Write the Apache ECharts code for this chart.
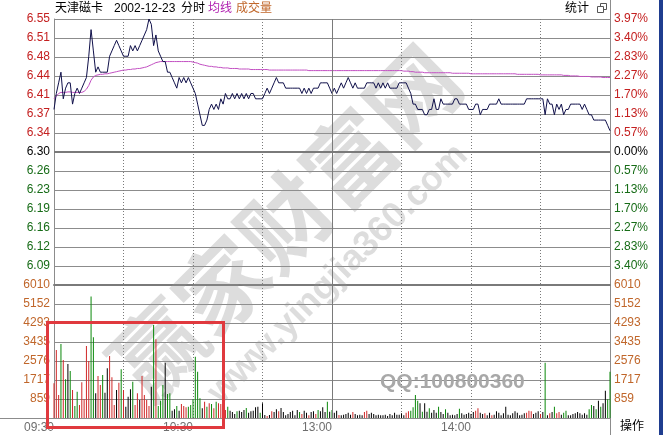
<!DOCTYPE html>
<html><head><meta charset="utf-8">
<script src="https://cdn.jsdelivr.net/npm/echarts@6/dist/echarts.min.js"></script>
<style>html,body{margin:0;padding:0;background:#fff;}#c{width:663px;height:435px;}</style>
</head><body><div id="c"></div>
<script>
const stockName = '天津磁卡';
const tradeDate = '2002-12-23';
const prevClose = 6.30;
const priceMax = 6.55;
const priceMin = 6.05;
const volMax = 6010;

const leftPriceLabels = ['6.55','6.51','6.48','6.44','6.41','6.37','6.34','6.30','6.26','6.23','6.19','6.16','6.12','6.09',''];
const rightPriceLabels = ['3.97%','3.40%','2.83%','2.27%','1.70%','1.13%','0.57%','0.00%','0.57%','1.13%','1.70%','2.27%','2.83%','3.40%',''];
const volLabels = ['6010','5152','4293','3435','2576','1717','859',''];
const timeTickLabels = ['09:30','10:30','13:00','14:00'];

const prices = [
 6.38,6.41,6.43,6.45,6.40,6.42,6.43,6.43,6.39,6.41,
 6.42,6.41,6.42,6.43,6.44,6.48,6.53,6.49,6.45,6.46,
 6.45,6.45,6.45,6.45,6.48,6.49,6.50,6.51,6.50,6.49,
 6.48,6.48,6.48,6.50,6.49,6.50,6.49,6.50,6.51,6.52,
 6.53,6.55,6.54,6.50,6.52,6.49,6.48,6.47,6.47,6.45,
 6.45,6.44,6.43,6.42,6.44,6.43,6.44,6.43,6.44,6.43,
 6.42,6.41,6.39,6.37,6.35,6.35,6.36,6.38,6.39,6.38,
 6.39,6.38,6.40,6.39,6.41,6.40,6.40,6.41,6.40,6.41,
 6.40,6.41,6.40,6.41,6.40,6.41,6.41,6.40,6.40,6.40,
 6.40,6.41,6.42,6.41,6.42,6.43,6.44,6.43,6.43,6.43,
 6.42,6.42,6.42,6.42,6.42,6.42,6.42,6.41,6.42,6.41,
 6.42,6.41,6.42,6.42,6.42,6.43,6.43,6.43,6.43,6.42,
 6.41,6.42,6.41,6.42,6.43,6.42,6.43,6.44,6.43,6.42,
 6.43,6.42,6.42,6.42,6.42,6.43,6.43,6.43,6.43,6.42,
 6.43,6.42,6.43,6.42,6.43,6.42,6.42,6.42,6.42,6.43,
 6.43,6.43,6.43,6.42,6.41,6.39,6.39,6.38,6.38,6.38,
 6.37,6.37,6.38,6.38,6.40,6.38,6.38,6.40,6.39,6.39,
 6.39,6.39,6.39,6.40,6.40,6.39,6.39,6.39,6.39,6.38,
 6.38,6.38,6.39,6.39,6.37,6.38,6.38,6.38,6.39,6.39,
 6.39,6.39,6.40,6.39,6.39,6.39,6.39,6.39,6.39,6.39,
 6.39,6.39,6.39,6.39,6.40,6.40,6.40,6.40,6.40,6.40,
 6.40,6.40,6.37,6.40,6.39,6.39,6.37,6.39,6.38,6.39,
 6.37,6.38,6.38,6.39,6.39,6.39,6.39,6.39,6.38,6.39,
 6.38,6.37,6.37,6.36,6.36,6.36,6.36,6.36,6.36,6.35,
 6.34
];

const avgPrices = [
 6.400,6.405,6.410,6.412,6.412,6.412,6.413,6.413,6.412,6.412,
 6.412,6.412,6.412,6.414,6.418,6.425,6.435,6.441,6.444,6.445,
 6.446,6.446,6.447,6.447,6.448,6.449,6.450,6.451,6.452,6.453,
 6.454,6.454,6.455,6.455,6.456,6.456,6.457,6.457,6.458,6.459,
 6.460,6.462,6.464,6.466,6.468,6.469,6.470,6.470,6.470,6.470,
 6.470,6.470,6.470,6.470,6.470,6.470,6.470,6.470,6.470,6.470,
 6.469,6.468,6.467,6.465,6.464,6.463,6.462,6.461,6.461,6.460,
 6.460,6.459,6.459,6.458,6.458,6.458,6.457,6.457,6.457,6.457,
 6.456,6.456,6.456,6.456,6.456,6.455,6.455,6.455,6.455,6.455,
 6.455,6.455,6.455,6.454,6.454,6.454,6.454,6.454,6.454,6.454,
 6.454,6.454,6.454,6.454,6.454,6.454,6.454,6.454,6.454,6.454,
 6.453,6.453,6.453,6.453,6.453,6.453,6.453,6.453,6.453,6.453,
 6.453,6.453,6.453,6.453,6.453,6.453,6.453,6.453,6.453,6.453,
 6.453,6.453,6.453,6.453,6.453,6.453,6.453,6.453,6.453,6.453,
 6.453,6.453,6.453,6.453,6.453,6.453,6.453,6.453,6.453,6.453,
 6.453,6.452,6.452,6.452,6.451,6.451,6.450,6.450,6.450,6.450,
 6.449,6.449,6.449,6.449,6.449,6.449,6.449,6.449,6.449,6.449,
 6.449,6.449,6.448,6.448,6.448,6.448,6.448,6.448,6.448,6.448,
 6.447,6.447,6.447,6.447,6.447,6.447,6.447,6.447,6.447,6.447,
 6.447,6.447,6.447,6.447,6.447,6.447,6.447,6.447,6.447,6.447,
 6.446,6.446,6.446,6.446,6.446,6.446,6.446,6.446,6.446,6.446,
 6.445,6.445,6.445,6.445,6.445,6.445,6.445,6.445,6.445,6.445,
 6.444,6.444,6.444,6.443,6.443,6.443,6.443,6.442,6.442,6.442,
 6.442,6.442,6.441,6.441,6.441,6.441,6.441,6.440,6.440,6.440,
 6.440
];

const volumes = [
 1567,3074,1040,3345,2622,1748,2441,2125,1266,542,
 1190,588,1612,844,3255,2577,5485,3647,1115,1899,
 1492,1944,1145,2245,2803,1838,588,1266,1597,2200,
 1266,512,964,1296,1642,588,1115,814,1899,1040,
 814,542,1417,4204,3556,542,784,1492,2501,1085,
 1115,331,392,542,331,633,542,482,512,588,
 844,2773,2095,889,437,738,512,663,633,437,
 738,663,633,588,362,512,
 331,271,180,301,331,271,362,452,241,301,
 331,482,512,241,663,135,90,135,301,271,
 392,301,452,271,120,180,271,331,120,362,
 271,180,331,241,120,271,301,180,362,301,
 482,271,738,286,362,241,331,135,120,150,
 180,241,150,271,180,120,150,120,271,331,
 180,241,180,120,150,120,120,150,90,180,
 120,241,150,150,211,120,241,301,331,482,
 1040,784,
 663,286,663,286,437,241,362,241,512,271,
 180,392,241,120,150,120,180,422,211,150,
 180,241,180,271,331,437,241,180,211,120,
 241,120,150,301,241,120,211,512,150,120,
 211,301,241,120,150,211,241,331,301,180,
 241,301,180,271,2502,120,211,271,512,211,
 271,150,241,331,120,120,180,211,271,211,
 150,211,150,392,588,542,392,784,512,663,
 1236,844,2095
];
// r = price up, g = price down, k = unchanged (bar colour in the reference)
const volTrend =
 'rrrgrgkgrg' + 'grrrrrggkr' + 'rgkkrrrkrg' + 'rkkkgrrkrr' + 'rrkgrgggkg' + 'gkkgkrrrgg' + 'ggggkrgrgr' + 'grrrrg' +
 'kkkgkkkgkk' + 'kkkgkkrkrk' + 'krkkkkkkkk' + 'grkkrkkrgk' + 'kkgkgkkrkk' + 'kkkrkkkkrr' + 'kkkkkkkkkk' + 'kkkkkkrrgg' + 'gg' +
 'kgkkgkkkgk' + 'kgkkkkkgkk' + 'kkkkrrkkrk' + 'krkkkkkkkk' + 'kkkkkkrrrk' + 'kkrkgkrkgr' + 'rkggkkkkkk' + 'kkkggkgkgk' + 'kgg';

const minuteLabels = [];
for (let i = 0; i <= 240; i++) {
  const m = i < 120 ? 570 + i : 780 + (i - 120);
  minuteLabels.push(String(Math.floor(m / 60)).padStart(2, '0') + ':' + String(m % 60).padStart(2, '0'));
}

const pStep = (priceMax - priceMin) / 14;
const vStep = volMax / 7;
const FONT = '"Liberation Sans","Noto Sans CJK SC",sans-serif';
const GRID_C = '#8c8c8c';
const barColors = { r: '#d02828', g: '#0a880a', k: '#000000' };
const priceCls = i => (i < 7 ? 'up' : (i === 7 ? 'fl' : 'dn'));
const richP = {
  up: { color: '#c42020', fontSize: 12, fontFamily: FONT },
  fl: { color: '#000000', fontSize: 12, fontFamily: FONT },
  dn: { color: '#176c17', fontSize: 12, fontFamily: FONT }
};

function priceFmt(arr) {
  return function (v) {
    const i = Math.round((priceMax - v) / pStep);
    if (i < 0 || i >= arr.length || !arr[i]) return '';
    return '{' + priceCls(i) + '|' + arr[i] + '}';
  };
}
function volFmt(v) {
  const i = Math.round((volMax - v) / vStep);
  return (i >= 0 && i < volLabels.length) ? volLabels[i] : '';
}

const chart = echarts.init(document.getElementById('c'), null, { renderer: 'canvas' });

const xCommon = {
  type: 'category', data: minuteLabels, boundaryGap: false,
  axisTick: { show: false },
  splitLine: {
    show: true,
    interval: function (idx) { return idx % 30 === 0 && idx > 0 && idx < 240; },
    lineStyle: { color: '#7a7a7a', type: [1, 2], width: 1 }
  }
};

const wm = 'rgba(150,150,150,0.32)';

chart.setOption({
  animation: false,
  backgroundColor: '#ffffff',
  grid: [
    { left: 54, right: 53, top: 19, height: 266, outerBoundsMode: 'none' },
    { left: 54, right: 53, top: 285, height: 133, outerBoundsMode: 'none' }
  ],
  xAxis: [
    Object.assign({}, xCommon, {
      gridIndex: 0,
      axisLine: { show: true, onZero: false, lineStyle: { color: '#7a7a7a', width: 2 } },
      axisLabel: { show: false }
    }),
    Object.assign({}, xCommon, {
      gridIndex: 1,
      axisLine: { show: true, onZero: false, lineStyle: { color: GRID_C, width: 1 } },
      axisLabel: {
        show: true,
        interval: function (idx, val) { return timeTickLabels.indexOf(val) >= 0; },
        align: 'right', margin: 4, color: '#6e6e6e', fontSize: 12, fontFamily: FONT
      }
    })
  ],
  yAxis: [
    {
      type: 'value', gridIndex: 0, position: 'left', min: priceMin, max: priceMax, interval: pStep,
      axisLine: { show: true, lineStyle: { color: GRID_C } }, axisTick: { show: false },
      splitLine: { show: true, lineStyle: { color: GRID_C, width: 1 } },
      axisLabel: { margin: 4, formatter: priceFmt(leftPriceLabels), rich: richP }
    },
    {
      type: 'value', gridIndex: 0, position: 'right', min: priceMin, max: priceMax, interval: pStep,
      axisLine: { show: true, lineStyle: { color: GRID_C } }, axisTick: { show: false },
      splitLine: { show: false },
      axisLabel: { margin: 4, formatter: priceFmt(rightPriceLabels), rich: richP }
    },
    {
      type: 'value', gridIndex: 1, position: 'left', min: 0, max: volMax, interval: vStep,
      axisLine: { show: true, lineStyle: { color: GRID_C } }, axisTick: { show: false },
      splitLine: { show: true, lineStyle: { color: GRID_C, width: 1 } },
      axisLabel: { margin: 4, formatter: volFmt, color: '#c0662a', fontSize: 12, fontFamily: FONT }
    },
    {
      type: 'value', gridIndex: 1, position: 'right', min: 0, max: volMax, interval: vStep,
      axisLine: { show: true, lineStyle: { color: GRID_C } }, axisTick: { show: false },
      splitLine: { show: false },
      axisLabel: { margin: 4, formatter: volFmt, color: '#c0662a', fontSize: 12, fontFamily: FONT }
    }
  ],
  series: [
    {
      type: 'line', xAxisIndex: 0, yAxisIndex: 0, data: avgPrices, showSymbol: false, symbol: 'none',
      lineStyle: { color: '#c24fc2', width: 1 }, z: 3, silent: true
    },
    {
      type: 'line', xAxisIndex: 0, yAxisIndex: 0, data: prices, showSymbol: false, symbol: 'none',
      lineStyle: { color: '#10104a', width: 1 }, z: 4, silent: true,
      markLine: {
        silent: true, symbol: 'none', label: { show: false }, animation: false,
        data: [
          { yAxis: prevClose, lineStyle: { color: '#7a7a7a', width: 2, type: 'solid' } },
          { xAxis: '13:00', lineStyle: { color: '#7a7a7a', width: 1, type: 'solid' } }
        ]
      }
    },
    {
      type: 'bar', xAxisIndex: 1, yAxisIndex: 2, barWidth: 1, silent: true,
      data: volumes.map(function (v, i) { return { value: v, itemStyle: { color: barColors[volTrend[i]] } }; }),
      markLine: {
        silent: true, symbol: 'none', label: { show: false }, animation: false,
        data: [{ xAxis: '13:00', lineStyle: { color: '#7a7a7a', width: 1, type: 'solid' } }]
      }
    }
  ],
  graphic: [
    { type: 'text', x: 285, y: 222, rotation: Math.PI / 4, z: 1, silent: true,
      style: { text: '赢家财富网', font: 'bold 90px "Noto Sans CJK SC"', fill: wm, align: 'center', verticalAlign: 'middle' } },
    { type: 'text', x: 338, y: 274, rotation: Math.PI / 4, z: 1, silent: true,
      style: { text: 'www.yingjia360.com', font: 'bold 36px "Liberation Sans"', fill: wm, align: 'center', verticalAlign: 'middle' } },
    { type: 'text', x: 380, y: 382, z: 1, silent: true,
      style: { text: 'QQ:100800360', font: 'bold 21px "Liberation Sans"', fill: '#a8a8a8', verticalAlign: 'middle' } },

    { type: 'text', x: 55, y: 9, style: { text: stockName, font: '12px ' + FONT, fill: '#000', verticalAlign: 'middle' } },
    { type: 'text', x: 114, y: 9, style: { text: tradeDate, font: '12px ' + FONT, fill: '#000', verticalAlign: 'middle' } },
    { type: 'text', x: 181, y: 9, style: { text: '分时', font: '12px ' + FONT, fill: '#000', verticalAlign: 'middle' } },
    { type: 'text', x: 208, y: 9, style: { text: '均线', font: '12px ' + FONT, fill: '#b020b0', verticalAlign: 'middle' } },
    { type: 'text', x: 236, y: 9, style: { text: '成交量', font: '12px ' + FONT, fill: '#c0662a', verticalAlign: 'middle' } },
    { type: 'text', x: 565, y: 9, style: { text: '统计', font: '12px ' + FONT, fill: '#000', verticalAlign: 'middle' } },
    { type: 'rect', shape: { x: 600.5, y: 3.5, width: 6, height: 6 }, style: { fill: '#fff', stroke: '#555', lineWidth: 1 } },
    { type: 'rect', shape: { x: 597.5, y: 6.5, width: 6, height: 6 }, style: { fill: '#fff', stroke: '#555', lineWidth: 1 } },
    { type: 'text', x: 620, y: 427, style: { text: '操作', font: '12px ' + FONT, fill: '#000', verticalAlign: 'middle' } },

    { type: 'line', shape: { x1: 610.5, y1: 0, x2: 610.5, y2: 19 }, style: { stroke: GRID_C, lineWidth: 1 } },
    { type: 'line', shape: { x1: 610.5, y1: 418, x2: 610.5, y2: 435 }, style: { stroke: GRID_C, lineWidth: 1 } },
    { type: 'line', shape: { x1: 0, y1: 418.5, x2: 54, y2: 418.5 }, style: { stroke: GRID_C, lineWidth: 1 } },
    { type: 'rect', shape: { x: 659, y: 0, width: 4, height: 435 }, style: { fill: '#1f3d8f' } },

    { type: 'rect', z: 100, shape: { x: 47.5, y: 322.5, width: 176, height: 105 },
      style: { fill: 'none', stroke: '#e0393e', lineWidth: 3 } }
  ]
});
</script></body></html>
